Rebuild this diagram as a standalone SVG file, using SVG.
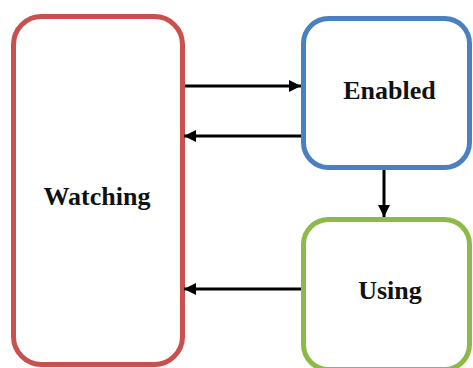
<svg xmlns="http://www.w3.org/2000/svg" width="473" height="368" viewBox="0 0 473 368">
<defs>
<style>
.box{fill:#fff;stroke-width:5}
.lbl{font-family:"Liberation Serif","Times New Roman",serif;font-weight:bold;font-size:26px;fill:#111;text-anchor:middle}
.conn{stroke:#000;stroke-width:3;fill:none;marker-end:url(#ah)}
</style>
<marker id="ah" viewBox="0 0 10 10" refX="10" refY="5" markerUnits="userSpaceOnUse" markerWidth="15" markerHeight="12" orient="auto">
<path d="M0,0 L10,5 L0,10 Z" fill="#000"/>
</marker>
</defs>
<rect width="473" height="368" fill="#fff"/>
<g id="watching">
<rect class="box" x="13.5" y="16.5" width="169" height="348" rx="28" stroke="#c9504f"/>
<text class="lbl" x="97" y="205">Watching</text>
</g>
<g id="enabled">
<rect class="box" x="303.5" y="18.5" width="166" height="149" rx="25" stroke="#4a7fc1"/>
<text class="lbl" x="389.5" y="99">Enabled</text>
</g>
<g id="using">
<rect class="box" x="303.5" y="219.5" width="166" height="150" rx="25" stroke="#8db84a"/>
<text class="lbl" x="390" y="299">Using</text>
</g>
<g id="connectors">
<line class="conn" x1="185" y1="86" x2="301" y2="86"/>
<line class="conn" x1="301" y1="136" x2="184" y2="136"/>
<line class="conn" x1="384" y1="170" x2="384" y2="217"/>
<line class="conn" x1="301" y1="289" x2="184" y2="289"/>
</g>
</svg>
